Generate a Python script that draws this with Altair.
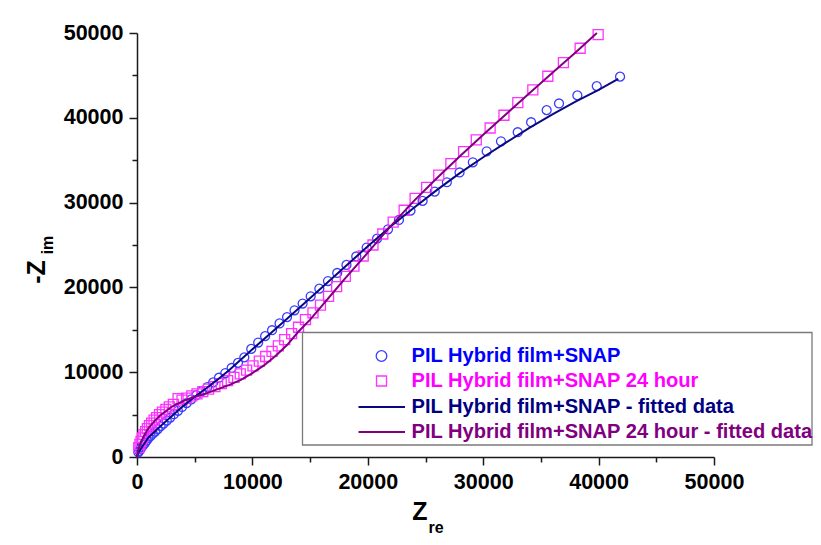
import altair as alt
import pandas as pd

# ---------------- data ----------------
# fitted curve, PIL Hybrid film+SNAP
fit_snap_zre = [0, 100, 300, 600, 1000, 1500, 2000, 3000, 4000, 5000, 6000, 7000, 8000,
                10000, 12000, 14000, 16000, 18000, 20000, 22000, 24000, 26000, 28000,
                30000, 32000, 34000, 36000, 38000, 40000, 41700]
fit_snap_zim = [0, 450, 900, 1500, 2300, 2950, 3600, 4800, 6000, 7100, 8100, 9150, 10250,
                12700, 15100, 17500, 19950, 22400, 24850, 27200, 29400, 31500, 33500,
                35350, 37100, 38800, 40400, 41900, 43300, 44600]

# fitted curve, PIL Hybrid film+SNAP 24 hour
fit_24h_zre = [0, 100, 300, 600, 1000, 1500, 2000, 3000, 4000, 5000, 6000, 7000, 8000, 9000,
               10000, 11000, 12000, 13000, 14000, 15000, 16000, 17000, 18000, 20000, 22000,
               24000, 26000, 28000, 30000, 32000, 34000, 36000, 38000, 39850]
fit_24h_zim = [0, 800, 1600, 2500, 3400, 4200, 4900, 5900, 6600, 7100, 7500, 8000, 8500, 9100,
               9900, 10800, 11900, 13200, 14800, 16200, 17800, 19400, 21000, 24100, 27250,
               30200, 32900, 35500, 38000, 40450, 42900, 45300, 47700, 50000]

# measured, PIL Hybrid film+SNAP (circles)
snap_zre = [120, 200, 300, 420, 550, 700, 850, 1000, 1180, 1370, 1580, 1800, 2050, 2300, 2580,
            2880, 3200, 3550, 3900, 4300, 4700, 5150, 5600, 6100, 6600, 7100, 7650, 8200, 8750,
            9300, 9900, 10500, 11100, 11700, 12350, 13000, 13650, 14350, 15050, 15800, 16550,
            17350, 18150, 19000, 19900, 20800, 21750, 22700, 23700, 24750, 25800, 26850, 27950,
            29100, 30300, 31540, 32990, 34150, 35500, 36570, 38160, 39840, 41860]
snap_zim = [550, 720, 950, 1180, 1420, 1680, 1950, 2250, 2500, 2750, 3000, 3300, 3650, 3950, 4300,
            4650, 5050, 5450, 5900, 6350, 6800, 7300, 7750, 8250, 8800, 9350, 9900, 10500, 11100,
            11750, 12750, 13500, 14250, 14950, 15750, 16500, 17300, 18100, 18950, 19850, 20750,
            21700, 22650, 23650, 24700, 25750, 26850, 27950, 29050, 30200, 31300, 32400, 33550,
            34750, 36050, 37230, 38300, 39480, 40900, 41690, 42640, 43740, 44850]

# measured, PIL Hybrid film+SNAP 24 hour (squares)
h24_zre = [150, 250, 350, 470, 600, 750, 900, 1080, 1270, 1480, 1700, 1950, 2200, 2500, 2800,
           3150, 3560, 3900, 4300, 4750, 5200, 5700, 6200, 6750, 7300, 7850, 8400, 8950, 9500,
           10050, 10600, 11150, 11700, 12250, 12800, 13400, 14000, 14600, 15250, 15900, 16600,
           17300, 18050, 18800, 19600, 20450, 21300, 22200, 23150, 24100, 25100, 26150, 27200,
           28300, 29400, 30600, 31800, 33000, 34300, 35600, 36950, 38400, 39960]
h24_zim = [1100, 1500, 1850, 2250, 2650, 3000, 3350, 3700, 4000, 4350, 4650, 5000, 5300, 5600, 5900,
           6200, 6890, 6700, 6950, 7200, 7450, 7700, 8000, 8300, 8650, 9000, 9400, 9800, 10250,
           10750, 11300, 11850, 12450, 13100, 13850, 14550, 15300, 16200, 17000, 17900, 18950,
           20100, 21300, 22500, 23700, 25000, 26300, 27700, 29100, 30500, 31800, 33250, 34600,
           36000, 37400, 38800, 40300, 41800, 43300, 44900, 46500, 48200, 49800]

x_major = [0, 10000, 20000, 30000, 40000, 50000]
x_minor = [5000, 15000, 25000, 35000, 45000]
y_major = [0, 10000, 20000, 30000, 40000, 50000]
y_minor = [5000, 15000, 25000, 35000, 45000]

legend_labels = ["PIL Hybrid film+SNAP",
                 "PIL Hybrid film+SNAP 24 hour",
                 "PIL Hybrid film+SNAP - fitted data",
                 "PIL Hybrid film+SNAP 24 hour - fitted data"]

# ---------------- styling ----------------
FONT = "Liberation Sans"
W, H = 577, 424
C_CIRC = "#3b3bff"
C_SQ = "#ff33ff"
C_NAVY = "#0a0a80"
C_PURP = "#800080"
AX = "#1a1a1a"

xs = alt.Scale(domain=[0, 50000], nice=False, zero=False)
ys = alt.Scale(domain=[0, 50000], nice=False, zero=False)


def major_axis(values, orient):
    return alt.Axis(values=values, orient=orient, format="d", labelFont=FONT,
                    labelFontSize=21.5, labelFontWeight="bold", labelColor="#000000",
                    tickSize=8, tickWidth=1.5, tickColor=AX, domainColor=AX,
                    domainWidth=1.5, grid=False, title=None, labelPadding=6,
                    labelFlush=False, labelOverlap=False)


def minor_axis(values, orient):
    return alt.Axis(values=values, orient=orient, labels=False, tickSize=5,
                    tickWidth=1.5, tickColor=AX, domain=False, grid=False, title=None)


df_fit_snap = pd.DataFrame({"zre": fit_snap_zre, "zim": fit_snap_zim})
df_fit_24h = pd.DataFrame({"zre": fit_24h_zre, "zim": fit_24h_zim})
df_snap = pd.DataFrame({"zre": snap_zre, "zim": snap_zim})
df_24h = pd.DataFrame({"zre": h24_zre, "zim": h24_zim})

circles = alt.Chart(df_snap).mark_point(
    shape="circle", filled=False, size=80, strokeWidth=1.3, color=C_CIRC, opacity=1
).encode(x=alt.X("zre:Q", scale=xs, axis=None), y=alt.Y("zim:Q", scale=ys, axis=None))

squares = alt.Chart(df_24h).mark_point(
    shape="square", filled=False, size=100, strokeWidth=1.3, color=C_SQ, opacity=1
).encode(x=alt.X("zre:Q", scale=xs, axis=None), y=alt.Y("zim:Q", scale=ys, axis=None))

navy = alt.Chart(df_fit_snap).mark_line(color=C_NAVY, strokeWidth=2).encode(
    x=alt.X("zre:Q", scale=xs, axis=major_axis(x_major, "bottom")),
    y=alt.Y("zim:Q", scale=ys, axis=major_axis(y_major, "left")))

purple = alt.Chart(df_fit_24h).mark_line(color=C_PURP, strokeWidth=2).encode(
    x=alt.X("zre:Q", scale=xs, axis=minor_axis(x_minor, "bottom")),
    y=alt.Y("zim:Q", scale=ys, axis=minor_axis(y_minor, "left")))

one = alt.Data(values=[{}])


def txt(s, x, y, size, color="#000000", angle=0, align="center", baseline="middle"):
    kw = dict(font=FONT, fontSize=size, fontWeight="bold", color=color,
              align=align, baseline=baseline)
    if angle:
        kw["angle"] = angle
    return alt.Chart(one).mark_text(**kw).encode(
        x=alt.value(x), y=alt.value(y), text=alt.value(s))


# axis titles with subscripts
titles = [
    txt("Z", 283, 479, 25),
    txt("re", 299, 495, 16),
    txt("-Z", -100, 239, 25, angle=270),
    txt("im", -89, 212, 16, angle=270),
]

# legend
LX_TEXT = 274.5
rows_y = [323, 348, 374, 399]
legend_box = alt.Chart(one).mark_rect(
    fill="#ffffff", fillOpacity=0, stroke="#7a7a7a", strokeWidth=1.3
).encode(x=alt.value(165.5), x2=alt.value(675), y=alt.value(299.5), y2=alt.value(412))

leg_circle = alt.Chart(one).mark_point(
    shape="circle", filled=False, size=113, strokeWidth=1.3, color=C_CIRC, opacity=1
).encode(x=alt.value(244.5), y=alt.value(rows_y[0]))
leg_square = alt.Chart(one).mark_point(
    shape="square", filled=False, size=100, strokeWidth=1.3, color=C_SQ, opacity=1
).encode(x=alt.value(244.5), y=alt.value(rows_y[1]))
leg_line1 = alt.Chart(one).mark_rule(color=C_NAVY, strokeWidth=2).encode(
    x=alt.value(221.5), x2=alt.value(268), y=alt.value(rows_y[2]))
leg_line2 = alt.Chart(one).mark_rule(color=C_PURP, strokeWidth=2).encode(
    x=alt.value(221.5), x2=alt.value(268), y=alt.value(rows_y[3]))

leg_colors = ["#0000ff", "#ff00ff", "#000080", "#800080"]
leg_texts = [txt(legend_labels[i], LX_TEXT, rows_y[i], 20.1, color=leg_colors[i], align="left")
             for i in range(4)]

chart = alt.layer(
    circles, squares, navy, purple,
    legend_box, leg_circle, leg_square, leg_line1, leg_line2, *leg_texts, *titles
).resolve_axis(x="independent", y="independent").properties(
    width=W, height=H,
    padding={"left": 129, "top": 25, "right": 99, "bottom": 78},
    autosize=alt.AutoSizeParams(type="none"),
    background="#ffffff",
).configure_view(stroke=None)

chart.save("out.html", embed_options={"renderer": "svg", "actions": False})
